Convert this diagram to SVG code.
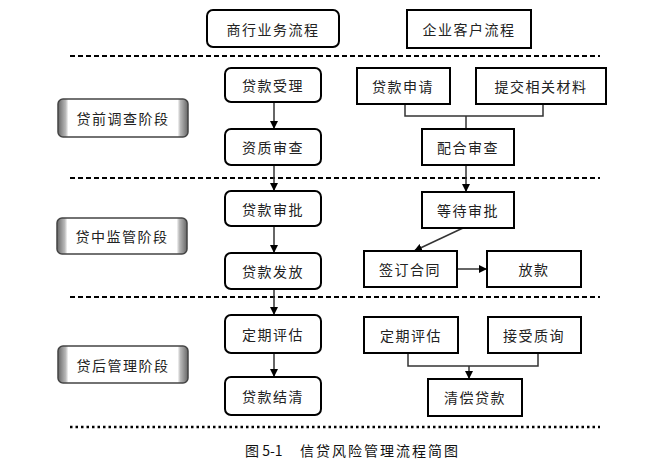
<svg xmlns="http://www.w3.org/2000/svg" width="667" height="463" viewBox="0 0 667 463">
<style>
.box{fill:#fff;stroke:#000;stroke-width:2}
.t{font-family:"Noto Sans CJK SC","Noto Sans CJK TC",sans-serif;font-size:14px;fill:#222;text-anchor:middle;dominant-baseline:central;letter-spacing:1.5px}
.cap{font-family:"Noto Sans CJK SC","Noto Sans CJK TC",sans-serif;font-size:14px;fill:#111;dominant-baseline:central}
.dash{stroke:#000;stroke-width:2;stroke-dasharray:5 3;fill:none}
.dot{stroke:#000;stroke-width:2.5;stroke-dasharray:2.5 3;fill:none}
.ln{stroke:#333;stroke-width:1.5;fill:none}
.stage{fill:url(#g);stroke:#444;stroke-width:1.5}
</style>
<defs>
<linearGradient id="g" x1="0" y1="0" x2="1" y2="0">
<stop offset="0" stop-color="#666"/>
<stop offset="0.06" stop-color="#bbb"/>
<stop offset="0.08" stop-color="#fff"/>
<stop offset="0.92" stop-color="#fff"/>
<stop offset="0.94" stop-color="#bbb"/>
<stop offset="1" stop-color="#666"/>
</linearGradient>
<marker id="a" viewBox="0 0 10 10" refX="10" refY="5" markerWidth="8" markerHeight="8" markerUnits="userSpaceOnUse" orient="auto">
<path d="M0,0 L10,5 L0,10 z" fill="#000"/>
</marker>
</defs>

<g id="dividers">
<line class="dash" x1="70" y1="56" x2="600" y2="56"/>
<line class="dash" x1="70" y1="178" x2="600" y2="178"/>
<line class="dash" x1="70" y1="297" x2="600" y2="297"/>
<line class="dot" x1="70" y1="427" x2="600" y2="427"/>
</g>

<g id="connectors">
<line class="ln" x1="274" y1="102" x2="274" y2="129" marker-end="url(#a)"/>
<line class="ln" x1="274" y1="165" x2="274" y2="191" marker-end="url(#a)"/>
<line class="ln" x1="274" y1="226" x2="274" y2="253" marker-end="url(#a)"/>
<line class="ln" x1="274" y1="289" x2="274" y2="315" marker-end="url(#a)"/>
<line class="ln" x1="274" y1="353" x2="274" y2="377" marker-end="url(#a)"/>
<polyline class="ln" points="405,104 405,116 543,116 543,104"/>
<line class="ln" x1="466" y1="116" x2="466" y2="129"/>
<line class="ln" x1="466" y1="165" x2="466" y2="192" marker-end="url(#a)"/>
<line class="ln" x1="463" y1="228" x2="414" y2="251" marker-end="url(#a)"/>
<line class="ln" x1="457" y1="269" x2="487" y2="269" marker-end="url(#a)"/>
<polyline class="ln" points="408,353 408,366 538,366 538,353"/>
<line class="ln" x1="469" y1="366" x2="469" y2="379" marker-end="url(#a)"/>
</g>

<g id="hdr-bank"><rect class="box" x="207" y="10" width="132" height="37" rx="6"/><text class="t" x="273" y="29">商行业务流程</text></g>
<g id="hdr-client"><rect class="box" x="407" y="10" width="124" height="38"/><text class="t" x="469" y="29">企业客户流程</text></g>

<g id="stage1"><rect class="stage" x="58" y="99" width="130" height="38" rx="5"/><text class="t" x="123" y="118">贷前调查阶段</text></g>
<g id="stage2"><rect class="stage" x="57" y="218" width="130" height="36" rx="5"/><text class="t" x="122" y="236">贷中监管阶段</text></g>
<g id="stage3"><rect class="stage" x="58" y="346" width="130" height="37" rx="5"/><text class="t" x="123" y="365">贷后管理阶段</text></g>

<g id="b-accept"><rect class="box" x="225" y="68" width="96" height="34" rx="6"/><text class="t" x="273" y="85">贷款受理</text></g>
<g id="b-qual"><rect class="box" x="225" y="129" width="96" height="36" rx="6"/><text class="t" x="273" y="147">资质审查</text></g>
<g id="b-approve"><rect class="box" x="225" y="191" width="96" height="35" rx="6"/><text class="t" x="273" y="209">贷款审批</text></g>
<g id="b-issue"><rect class="box" x="225" y="253" width="96" height="36" rx="6"/><text class="t" x="273" y="271">贷款发放</text></g>
<g id="b-eval"><rect class="box" x="225" y="315" width="96" height="38" rx="6"/><text class="t" x="273" y="334">定期评估</text></g>
<g id="b-settle"><rect class="box" x="225" y="377" width="96" height="38" rx="6"/><text class="t" x="273" y="396">贷款结清</text></g>

<g id="c-apply"><rect class="box" x="357" y="68" width="93" height="36"/><text class="t" x="403" y="86">贷款申请</text></g>
<g id="c-submit"><rect class="box" x="476" y="68" width="130" height="36"/><text class="t" x="541" y="86">提交相关材料</text></g>
<g id="c-coop"><rect class="box" x="422" y="129" width="92" height="36"/><text class="t" x="468" y="147">配合审查</text></g>
<g id="c-wait"><rect class="box" x="422" y="192" width="92" height="36"/><text class="t" x="468" y="210">等待审批</text></g>
<g id="c-sign"><rect class="box" x="364" y="251" width="93" height="36"/><text class="t" x="410" y="269">签订合同</text></g>
<g id="c-loan"><rect class="box" x="487" y="251" width="94" height="36"/><text class="t" x="534" y="269">放款</text></g>
<g id="c-eval"><rect class="box" x="364" y="317" width="94" height="36"/><text class="t" x="411" y="335">定期评估</text></g>
<g id="c-query"><rect class="box" x="488" y="317" width="93" height="36"/><text class="t" x="534" y="335">接受质询</text></g>
<g id="c-repay"><rect class="box" x="428" y="379" width="94" height="37"/><text class="t" x="475" y="397">清偿贷款</text></g>

<g id="caption"><text class="cap" x="245" y="450">图 5-1<tspan x="300" letter-spacing="2">信贷风险管理流程简图</tspan></text></g>
</svg>
